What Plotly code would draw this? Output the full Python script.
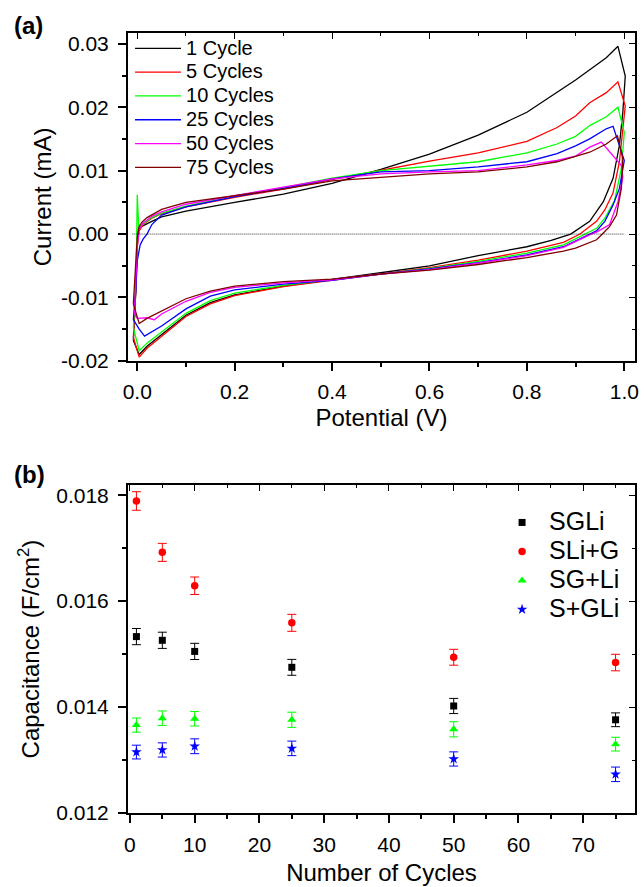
import plotly.graph_objects as go

FONT = "Liberation Sans, Arial, sans-serif"

# ---------------- (a) cyclic voltammograms ----------------
cycle_labels = ["1 Cycle", "5 Cycles", "10 Cycles", "25 Cycles", "50 Cycles", "75 Cycles"]
cycle_colors = ["#000000", "#FF0000", "#00FF00", "#0000FF", "#FF00FF", "#800000"]

# 1 cycle
v_fwd_1 = [-0.008, -0.003, 0.000, 0.003, 0.006, 0.012, 0.03, 0.05, 0.10, 0.20, 0.30, 0.40, 0.50, 0.60, 0.70, 0.80, 0.862, 0.90, 0.929, 0.963, 0.987]
i_fwd_1 = [-0.0168, -0.0090, -0.0010, 0.0015, 0.0011, 0.0013, 0.0020, 0.0027, 0.0036, 0.0050, 0.0063, 0.0080, 0.0102, 0.0126, 0.0156, 0.0192, 0.0223, 0.0243, 0.0259, 0.0278, 0.0296]
v_rev_1 = [1.002, 0.997, 0.990, 0.977, 0.957, 0.929, 0.89, 0.85, 0.80, 0.70, 0.60, 0.50, 0.40, 0.30, 0.20, 0.15, 0.10, 0.05, 0.02, 0.004, -0.008]
i_rev_1 = [0.0249, 0.0192, 0.0140, 0.0088, 0.0051, 0.0020, 0.0000, -0.0010, -0.0020, -0.0034, -0.0050, -0.0061, -0.0072, -0.0082, -0.0096, -0.0108, -0.0128, -0.0158, -0.0177, -0.0190, -0.0168]

# 5 cycles
v_fwd_5 = [-0.008, -0.003, 0.000, 0.004, 0.012, 0.03, 0.05, 0.10, 0.20, 0.30, 0.40, 0.50, 0.60, 0.70, 0.80, 0.862, 0.90, 0.929, 0.963, 0.987]
i_fwd_5 = [-0.0163, -0.0090, -0.0020, 0.0005, 0.0015, 0.0025, 0.0032, 0.0043, 0.0058, 0.0071, 0.0086, 0.0101, 0.0115, 0.0128, 0.0146, 0.0168, 0.0186, 0.0207, 0.0223, 0.0240]
v_rev_5 = [1.002, 0.990, 0.977, 0.960, 0.943, 0.909, 0.875, 0.80, 0.70, 0.60, 0.50, 0.40, 0.30, 0.20, 0.15, 0.10, 0.05, 0.02, 0.004, -0.008]
i_rev_5 = [0.0202, 0.0114, 0.0065, 0.0038, 0.0020, 0.0000, -0.0013, -0.0027, -0.0041, -0.0053, -0.0063, -0.0073, -0.0083, -0.0097, -0.0110, -0.0130, -0.0162, -0.0180, -0.0194, -0.0163]

# 10 cycles
v_fwd_10 = [-0.008, -0.003, -0.001, 0.000, 0.003, 0.012, 0.03, 0.05, 0.10, 0.20, 0.30, 0.40, 0.50, 0.60, 0.70, 0.80, 0.862, 0.90, 0.929, 0.963, 0.987]
i_fwd_10 = [-0.0148, -0.0080, 0.0000, 0.0062, 0.0010, 0.0016, 0.0026, 0.0033, 0.0044, 0.0060, 0.0073, 0.0088, 0.0100, 0.0107, 0.0114, 0.0128, 0.0142, 0.0154, 0.0171, 0.0185, 0.0200]
v_rev_10 = [1.000, 0.994, 0.980, 0.960, 0.943, 0.919, 0.875, 0.80, 0.70, 0.60, 0.50, 0.40, 0.30, 0.20, 0.15, 0.10, 0.05, 0.02, 0.004, -0.008]
i_rev_10 = [0.0160, 0.0103, 0.0053, 0.0025, 0.0009, 0.0000, -0.0017, -0.0030, -0.0043, -0.0054, -0.0063, -0.0073, -0.0081, -0.0093, -0.0105, -0.0125, -0.0155, -0.0172, -0.0184, -0.0148]

# 25 cycles
v_fwd_25 = [-0.008, -0.003, 0.000, 0.006, 0.012, 0.02, 0.03, 0.05, 0.10, 0.20, 0.30, 0.40, 0.50, 0.60, 0.70, 0.80, 0.862, 0.90, 0.929, 0.963, 0.977]
i_fwd_25 = [-0.0135, -0.0090, -0.0042, -0.0017, -0.0008, 0.0000, 0.0015, 0.0030, 0.0043, 0.0059, 0.0072, 0.0087, 0.0098, 0.0100, 0.0106, 0.0114, 0.0127, 0.0139, 0.0150, 0.0166, 0.0170]
v_rev_25 = [1.000, 0.990, 0.977, 0.960, 0.943, 0.929, 0.875, 0.80, 0.70, 0.60, 0.50, 0.40, 0.30, 0.20, 0.15, 0.10, 0.05, 0.015, 0.004, -0.008]
i_rev_25 = [0.0116, 0.0072, 0.0046, 0.0020, 0.0005, 0.0000, -0.0020, -0.0033, -0.0045, -0.0055, -0.0063, -0.0073, -0.0079, -0.0088, -0.0098, -0.0118, -0.0145, -0.0161, -0.0150, -0.0135]

# 50 cycles
v_fwd_50 = [-0.006, -0.002, 0.000, 0.004, 0.012, 0.03, 0.05, 0.10, 0.20, 0.30, 0.40, 0.50, 0.60, 0.70, 0.80, 0.862, 0.90, 0.929, 0.953]
i_fwd_50 = [-0.0125, -0.0064, -0.0020, 0.0008, 0.0017, 0.0028, 0.0035, 0.0047, 0.0061, 0.0074, 0.0087, 0.0095, 0.0098, 0.0100, 0.0109, 0.0116, 0.0123, 0.0137, 0.0145]
v_rev_50 = [0.994, 0.997, 0.987, 0.970, 0.943, 0.932, 0.875, 0.80, 0.70, 0.60, 0.50, 0.40, 0.30, 0.20, 0.15, 0.10, 0.05, 0.035, 0.02, 0.000, -0.006]
i_rev_50 = [0.0108, 0.0090, 0.0051, 0.0015, 0.0003, 0.0000, -0.0021, -0.0034, -0.0046, -0.0056, -0.0063, -0.0072, -0.0077, -0.0084, -0.0092, -0.0106, -0.0126, -0.0135, -0.0132, -0.0133, -0.0125]

# 75 cycles
v_fwd_75 = [-0.008, -0.004, 0.000, 0.004, 0.010, 0.020, 0.05, 0.10, 0.20, 0.30, 0.40, 0.50, 0.60, 0.70, 0.80, 0.862, 0.90, 0.929, 0.963, 0.986]
i_fwd_75 = [-0.0110, -0.0056, -0.0005, 0.0012, 0.0019, 0.0026, 0.0039, 0.0050, 0.0060, 0.0071, 0.0084, 0.0090, 0.0095, 0.0098, 0.0106, 0.0114, 0.0123, 0.0129, 0.0142, 0.0155]
v_rev_75 = [0.997, 0.994, 0.984, 0.970, 0.955, 0.943, 0.90, 0.875, 0.80, 0.70, 0.60, 0.50, 0.40, 0.30, 0.20, 0.15, 0.10, 0.05, 0.02, 0.004, -0.008]
i_rev_75 = [0.0119, 0.0072, 0.0030, 0.0012, 0.0000, -0.0009, -0.0022, -0.0027, -0.0037, -0.0048, -0.0057, -0.0063, -0.0071, -0.0075, -0.0082, -0.0090, -0.0102, -0.0121, -0.0133, -0.0141, -0.0110]

cv_v = [v_fwd_1 + v_rev_1, v_fwd_5 + v_rev_5, v_fwd_10 + v_rev_10,
        v_fwd_25 + v_rev_25, v_fwd_50 + v_rev_50, v_fwd_75 + v_rev_75]
cv_i = [i_fwd_1 + i_rev_1, i_fwd_5 + i_rev_5, i_fwd_10 + i_rev_10,
        i_fwd_25 + i_rev_25, i_fwd_50 + i_rev_50, i_fwd_75 + i_rev_75]

zero_v = [-0.01, 1.0]
zero_i = [0.0, 0.0]

top_x_ticks = [0.0, 0.2, 0.4, 0.6, 0.8, 1.0]
top_x_labels = ["0.0", "0.2", "0.4", "0.6", "0.8", "1.0"]
top_y_ticks = [-0.02, -0.01, 0.0, 0.01, 0.02, 0.03]
top_y_labels = ["-0.02", "-0.01", "0.00", "0.01", "0.02", "0.03"]

# ---------------- (b) capacitance vs cycles ----------------
cap_cycles = [1, 5, 10, 25, 50, 75]
cap_names = ["SGLi", "SLi+G", "SG+Li", "S+GLi"]
sgli = [0.01533, 0.01526, 0.01505, 0.01475, 0.01402, 0.01376]
sgli_err = [0.000153, 0.000153, 0.000153, 0.00015, 0.000143, 0.00013]
sli_g = [0.01789, 0.01692, 0.01629, 0.01559, 0.01494, 0.01484]
sli_g_err = [0.000175, 0.00017, 0.000165, 0.00016, 0.00015, 0.000156]
sg_li = [0.01366, 0.01379, 0.01378, 0.01376, 0.01358, 0.01330]
sg_li_err = [0.000134, 0.000137, 0.000137, 0.000143, 0.000143, 0.00013]
s_gli = [0.01315, 0.01319, 0.01326, 0.01322, 0.01302, 0.01273]
s_gli_err = [0.00013, 0.000134, 0.00014, 0.000137, 0.000134, 0.000137]

cap_values = [sgli, sli_g, sg_li, s_gli]
cap_errors = [sgli_err, sli_g_err, sg_li_err, s_gli_err]
cap_colors = ["#000000", "#FF0000", "#00FF00", "#0000FF"]
cap_symbols = ["square", "circle", "triangle-up", "star"]
cap_sizes = [7, 7.5, 8, 8]

bot_x_ticks = [0, 10, 20, 30, 40, 50, 60, 70]
bot_x_labels = ["0", "10", "20", "30", "40", "50", "60", "70"]
bot_y_ticks = [0.012, 0.014, 0.016, 0.018]
bot_y_labels = ["0.012", "0.014", "0.016", "0.018"]

fig = go.Figure()

for v, i, lab, col in zip(cv_v, cv_i, cycle_labels, cycle_colors):
    fig.add_trace(go.Scatter(x=v, y=i, mode="lines",
                             name='<span style="font-size:20px">' + lab + '</span>',
                             line=dict(color=col, width=1.3),
                             xaxis="x", yaxis="y", legend="legend"))

fig.add_trace(go.Scatter(x=zero_v, y=zero_i, mode="lines", showlegend=False,
                         line=dict(color="black", width=0.8, dash="1px,1px"),
                         xaxis="x", yaxis="y", hoverinfo="skip"))

for vals, errs, name, col, sym, sz in zip(cap_values, cap_errors, cap_names,
                                          cap_colors, cap_symbols, cap_sizes):
    fig.add_trace(go.Scatter(x=cap_cycles, y=vals, mode="markers",
                             name='<span style="font-size:25px">' + name + '</span>',
                             marker=dict(symbol=sym, size=sz, color=col, line=dict(width=0)),
                             error_y=dict(type="data", array=errs, color=col,
                                          thickness=1, width=4.5),
                             xaxis="x2", yaxis="y2", legend="legend2"))

# empty traces so that mirror-tick overlay axes exist
for xa, ya in [("x3", "y"), ("x", "y3"), ("x4", "y2"), ("x2", "y4")]:
    fig.add_trace(go.Scatter(x=[], y=[], xaxis=xa, yaxis=ya, showlegend=False,
                             hoverinfo="skip"))

tickfont = dict(family=FONT, size=21, color="black")
titlefont = dict(family=FONT, size=24, color="black")

def main_axis(**kw):
    d = dict(showline=True, linewidth=2, linecolor="black", mirror=True,
             ticks="outside", ticklen=8, tickwidth=1.5, tickcolor="black",
             showgrid=False, zeroline=False, tickfont=tickfont,
             tickmode="array")
    d.update(kw)
    return d

def mirror_axis(**kw):
    d = dict(showline=False, ticks="inside", ticklen=6, tickwidth=1.2,
             tickcolor="black", showgrid=False, zeroline=False,
             showticklabels=False, tickmode="array")
    d.update(kw)
    return d

top_dom = [0.5796, 1.0]
bot_dom = [0.0, 0.4204]
top_xr = [-0.019, 1.022]
top_yr = [-0.02, 0.0317]
bot_xr = [-0.3, 78.0]
bot_yr = [0.012, 0.01819]

fig.update_layout(
    width=644, height=887,
    margin=dict(l=128, r=5, t=33, b=69),
    paper_bgcolor="white", plot_bgcolor="white",
    font=dict(family=FONT, color="black"),
    xaxis=main_axis(domain=[0, 1], anchor="y", range=top_xr,
                    tickvals=top_x_ticks, ticktext=top_x_labels, ticklabelstandoff=3,
                    minor=dict(ticks="outside", ticklen=4, tickwidth=1.5, tickcolor="black",
                               tickmode="linear", tick0=0, dtick=0.1),
                    title=dict(text="Potential (V)", font=titlefont, standoff=7)),
    yaxis=main_axis(domain=top_dom, anchor="x", range=top_yr,
                    tickvals=top_y_ticks, ticktext=top_y_labels, ticklabelstandoff=5,
                    minor=dict(ticks="outside", ticklen=4, tickwidth=1.5, tickcolor="black",
                               tickmode="linear", tick0=0, dtick=0.005),
                    title=dict(text="Current (mA)", font=titlefont, standoff=3)),
    xaxis2=main_axis(domain=[0, 1], anchor="y2", range=bot_xr,
                     tickvals=bot_x_ticks, ticktext=bot_x_labels, ticklabelstandoff=4,
                     minor=dict(ticks="outside", ticklen=4, tickwidth=1.5, tickcolor="black",
                                tickmode="linear", tick0=0, dtick=5),
                     title=dict(text="Number of Cycles", font=titlefont, standoff=9)),
    yaxis2=main_axis(domain=bot_dom, anchor="x2", range=bot_yr,
                     tickvals=bot_y_ticks, ticktext=bot_y_labels, ticklabelstandoff=5,
                     minor=dict(ticks="outside", ticklen=4, tickwidth=1.5, tickcolor="black",
                                tickmode="linear", tick0=0.012, dtick=0.001),
                     title=dict(text="Capacitance (F/cm<sup>2</sup>)", font=titlefont, standoff=10)),
    xaxis3=mirror_axis(overlaying="x", anchor="y", side="top", range=top_xr,
                       tickvals=top_x_ticks,
                       minor=dict(ticks="inside", ticklen=3, tickwidth=1.2, tickcolor="black",
                                  tickmode="linear", tick0=0, dtick=0.1)),
    yaxis3=mirror_axis(overlaying="y", anchor="x", side="right", range=top_yr,
                       tickvals=top_y_ticks,
                       minor=dict(ticks="inside", ticklen=3, tickwidth=1.2, tickcolor="black",
                                  tickmode="linear", tick0=0, dtick=0.005)),
    xaxis4=mirror_axis(overlaying="x2", anchor="y2", side="top", range=bot_xr,
                       tickvals=bot_x_ticks,
                       minor=dict(ticks="inside", ticklen=3, tickwidth=1.2, tickcolor="black",
                                  tickmode="linear", tick0=0, dtick=5)),
    yaxis4=mirror_axis(overlaying="y2", anchor="x2", side="right", range=bot_yr,
                       tickvals=bot_y_ticks,
                       minor=dict(ticks="inside", ticklen=3, tickwidth=1.2, tickcolor="black",
                                  tickmode="linear", tick0=0.012, dtick=0.001)),
    legend=dict(x=0.004, y=1.002, xanchor="left", yanchor="top",
                bgcolor="rgba(0,0,0,0)", borderwidth=0, itemwidth=46,
                font=dict(family=FONT, size=16, color="black"),
                tracegroupgap=0),
    legend2=dict(x=0.724, y=0.3975, xanchor="left", yanchor="top",
                 bgcolor="rgba(0,0,0,0)", borderwidth=0, itemwidth=44,
                 font=dict(family=FONT, size=20, color="black"),
                 tracegroupgap=0),
    showlegend=True,
    annotations=[
        dict(text="<b>(a)</b>", xref="paper", yref="paper", x=-0.229, y=1.029,
             xanchor="left", yanchor="top", showarrow=False,
             font=dict(family=FONT, size=24, color="black")),
        dict(text="<b>(b)</b>", xref="paper", yref="paper", x=-0.229, y=0.4535,
             xanchor="left", yanchor="top", showarrow=False,
             font=dict(family=FONT, size=24, color="black")),
    ],
)

fig.write_html("out.html")
